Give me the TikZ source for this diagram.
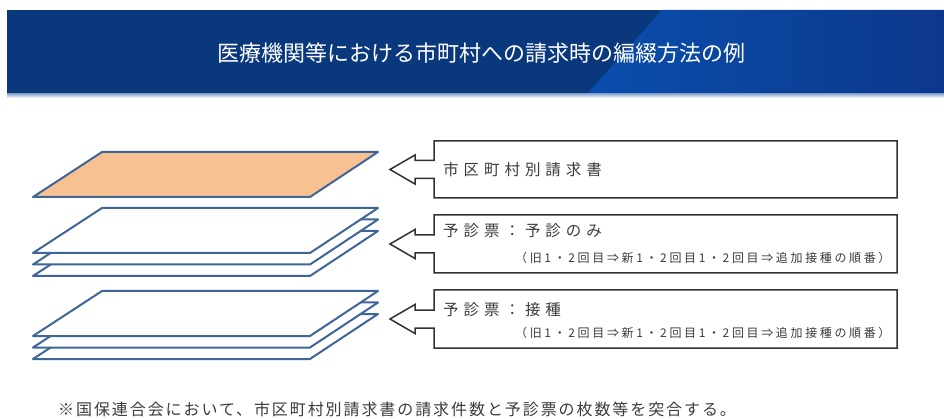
\documentclass[tikz,border=0pt]{standalone}
\usepackage{fontspec}
\newfontfamily\jpfont{Noto Sans CJK JP}
\newfontfamily\jpwide[LetterSpace=32]{Noto Sans CJK JP}
\newfontfamily\jpsmall[LetterSpace=22]{Noto Sans CJK JP}
\newfontfamily\jpnote[LetterSpace=12]{Noto Sans CJK JP}
\definecolor{navy}{RGB}{10,56,125}
\definecolor{navyR}{RGB}{12,56,140}
\definecolor{hlblue}{RGB}{10,78,172}
\definecolor{sheetblue}{RGB}{62,102,152}
\definecolor{peach}{RGB}{248,193,145}
\definecolor{boxline}{RGB}{50,50,50}
\definecolor{txt}{RGB}{60,60,60}
\newcommand\myarrowbox[2]{%
  \draw[calloutline] (434,#1) -- (897,#1) -- (897,#2) -- (434,#2)
    -- (434,{(#1+#2)/2+9}) -- (415,{(#1+#2)/2+9}) -- (415,{(#1+#2)/2+14.5})
    -- (390,{(#1+#2)/2}) -- (415,{(#1+#2)/2-14.5}) -- (415,{(#1+#2)/2-9})
    -- (434,{(#1+#2)/2-9}) -- cycle;}
\begin{document}
\begin{tikzpicture}[x=1pt,y=-1pt,
  sheet/.style={draw=sheetblue, line width=2pt, line join=round},
  calloutline/.style={draw=boxline, line width=1.5pt, line join=miter},
  bigtext/.style={anchor=west, inner sep=0pt, text=txt, font=\jpwide\fontsize{15.5}{18}\selectfont},
  smalltext/.style={anchor=west, inner sep=0pt, text=txt, font=\jpsmall\fontsize{12}{14}\selectfont}]
\useasboundingbox (0,0) rectangle (944,419);
\fill[white] (0,0) rectangle (944,419);
% header
\fill[navy] (7,10) rectangle (944,94);
\shade[left color=hlblue, right color=navyR] (662,10) -- (944,10) -- (944,94) -- (587,94) -- cycle;
\shade[top color={rgb,255:red,150;green,175;blue,210}, bottom color=white] (7,94) rectangle (944,98);
\node[text=white, inner sep=0pt, font=\jpfont\fontsize{22}{26}\selectfont] (title) at (481,53) {医療機関等における市町村への請求時の編綴方法の例};
% sheets
\filldraw[sheet, fill=peach] (33,197) -- (310,197) -- (378,152) -- (102,152) -- cycle;
\foreach \d in {79,67.5,56,162,150.5,139} {
  \filldraw[sheet, fill=white] (33,{197+\d}) -- (310,{197+\d}) -- (378,{152+\d}) -- (102,{152+\d}) -- cycle;
}
% boxes
\myarrowbox{141}{198}
\myarrowbox{215}{273}
\myarrowbox{290}{348}
\node[bigtext] (t1) at (443,170) {市区町村別請求書};
\node[bigtext] (t2a) at (443,231) {予診票：予診のみ};
\node[smalltext] (t2b) at (515,258) {（旧1・2回目⇒新1・2回目1・2回目⇒追加接種の順番）};
\node[bigtext] (t3a) at (443,310) {予診票：接種};
\node[smalltext] (t3b) at (515,333) {（旧1・2回目⇒新1・2回目1・2回目⇒追加接種の順番）};
% footer
\node[anchor=west, inner sep=0pt, text=txt, font=\jpnote\fontsize{16}{19}\selectfont] (note) at (58,409) {※国保連合会において、市区町村別請求書の請求件数と予診票の枚数等を突合する。};
\end{tikzpicture}
\end{document}
